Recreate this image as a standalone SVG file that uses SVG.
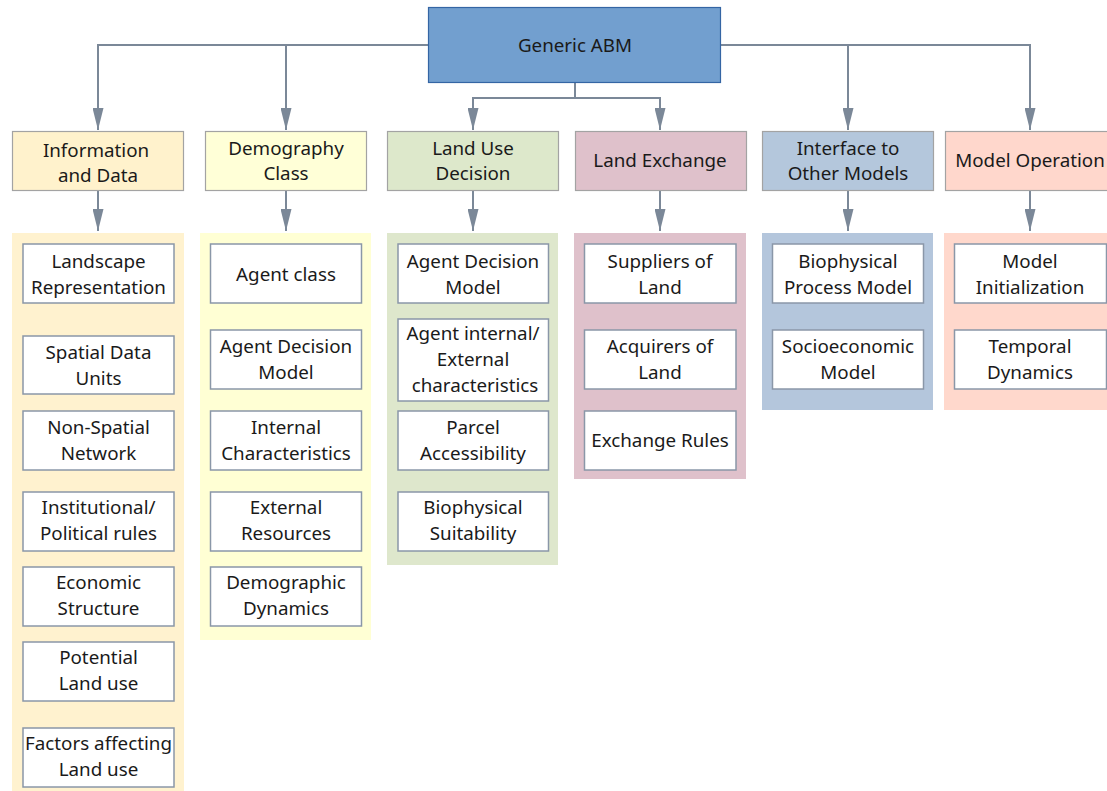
<svg xmlns="http://www.w3.org/2000/svg" width="1107" height="791" viewBox="0 0 1107 791">
  <defs>
    <marker id="arrow" viewBox="0 0 22 11" refX="22" refY="5.5" markerWidth="22" markerHeight="11" markerUnits="userSpaceOnUse" orient="auto">
      <path d="M0,0 L22,5.5 L0,11 Z" fill="#7b8898"/>
    </marker>
    <style>
      text { font-family: "Noto Sans", "Open Sans", "DejaVu Sans", sans-serif; font-size: 18.8px; fill: #1a1a1a; text-anchor: middle; }
      .conn { fill: none; stroke: #7b8898; stroke-width: 2; }
      .head { stroke: #a3a3a3; stroke-width: 1.2; }
      .item { fill: #ffffff; stroke: #8a97a8; stroke-width: 1.5; }
      .panel { stroke: none; }
    </style>
  </defs>
  <rect width="1107" height="791" fill="#ffffff"/>

  <!-- connectors -->
  <g id="connectors">
    <path class="conn" d="M428,45 H98 V130" marker-end="url(#arrow)"/>
    <path class="conn" d="M286,45 V130" marker-end="url(#arrow)"/>
    <path class="conn" d="M721,45 H1030 V130" marker-end="url(#arrow)"/>
    <path class="conn" d="M848,45 V130" marker-end="url(#arrow)"/>
    <path class="conn" d="M575,82 V98 H473 V130" marker-end="url(#arrow)"/>
    <path class="conn" d="M575,98 H660 V130" marker-end="url(#arrow)"/>
    <path class="conn" d="M98,190 V231" marker-end="url(#arrow)"/>
    <path class="conn" d="M286,190 V231" marker-end="url(#arrow)"/>
    <path class="conn" d="M473,190 V231" marker-end="url(#arrow)"/>
    <path class="conn" d="M660,190 V231" marker-end="url(#arrow)"/>
    <path class="conn" d="M848,190 V231" marker-end="url(#arrow)"/>
    <path class="conn" d="M1030,190 V231" marker-end="url(#arrow)"/>
  </g>

  <!-- root -->
  <g id="root">
    <rect x="428.5" y="7.5" width="292" height="75" fill="#729fcf" stroke="#3465a4" stroke-width="1.2"/>
    <text x="575" y="52">Generic ABM</text>
  </g>

  <!-- Information and Data -->
  <g id="info">
    <rect class="panel" x="12" y="233" width="172" height="558" fill="#fff2cf"/>
    <rect class="head" x="12.5" y="131.5" width="171" height="59" fill="#fff2cc"/>
    <text x="96" y="157">Information</text>
    <text x="98" y="182">and Data</text>
  </g>
  <g id="info-landscape">
    <rect class="item" x="23" y="244" width="151" height="59"/>
    <text x="98.5" y="268">Landscape</text><text x="98.5" y="294">Representation</text>
  </g>
  <g id="info-spatial">
    <rect class="item" x="23" y="336" width="151" height="58"/>
    <text x="98.5" y="359">Spatial Data</text><text x="98.5" y="385">Units</text>
  </g>
  <g id="info-nonspatial">
    <rect class="item" x="23" y="411" width="151" height="59"/>
    <text x="98.5" y="434">Non-Spatial</text><text x="98.5" y="460">Network</text>
  </g>
  <g id="info-institutional">
    <rect class="item" x="23" y="492" width="151" height="59"/>
    <text x="98.5" y="514">Institutional/</text><text x="98.5" y="540">Political rules</text>
  </g>
  <g id="info-economic">
    <rect class="item" x="23" y="567" width="151" height="59"/>
    <text x="98.5" y="589">Economic</text><text x="98.5" y="615">Structure</text>
  </g>
  <g id="info-potential">
    <rect class="item" x="23" y="642" width="151" height="59"/>
    <text x="98.5" y="664">Potential</text><text x="98.5" y="690">Land use</text>
  </g>
  <g id="info-factors">
    <rect class="item" x="23" y="728" width="151" height="59"/>
    <text x="98.5" y="750">Factors affecting</text><text x="98.5" y="776">Land use</text>
  </g>

  <!-- Demography Class -->
  <g id="demo">
    <rect class="panel" x="200" y="233" width="171" height="407" fill="#ffffd4"/>
    <rect class="head" x="205.5" y="131.5" width="161" height="59" fill="#ffffd7"/>
    <text x="286" y="155">Demography</text>
    <text x="286" y="180">Class</text>
  </g>
  <g id="demo-agentclass">
    <rect class="item" x="210.5" y="244" width="151" height="59"/>
    <text x="286" y="281">Agent class</text>
  </g>
  <g id="demo-decision">
    <rect class="item" x="210.5" y="330" width="151" height="59"/>
    <text x="286" y="353">Agent Decision</text><text x="286" y="379">Model</text>
  </g>
  <g id="demo-internal">
    <rect class="item" x="210.5" y="411" width="151" height="59"/>
    <text x="286" y="434">Internal</text><text x="286" y="460">Characteristics</text>
  </g>
  <g id="demo-external">
    <rect class="item" x="210.5" y="492" width="151" height="59"/>
    <text x="286" y="514">External</text><text x="286" y="540">Resources</text>
  </g>
  <g id="demo-dynamics">
    <rect class="item" x="210.5" y="567" width="151" height="59"/>
    <text x="286" y="589">Demographic</text><text x="286" y="615">Dynamics</text>
  </g>

  <!-- Land Use Decision -->
  <g id="landuse">
    <rect class="panel" x="387" y="233" width="171" height="332" fill="#dee7cc"/>
    <rect class="head" x="387.5" y="131.5" width="171" height="59" fill="#dde8cb"/>
    <text x="473" y="155">Land Use</text>
    <text x="473" y="180">Decision</text>
  </g>
  <g id="landuse-decision">
    <rect class="item" x="398" y="244" width="150.5" height="59"/>
    <text x="473" y="268">Agent Decision</text><text x="473" y="294">Model</text>
  </g>
  <g id="landuse-characteristics">
    <rect class="item" x="398" y="319" width="150.5" height="82"/>
    <text x="473" y="340">Agent internal/</text><text x="473" y="366">External</text><text x="475" y="392">characteristics</text>
  </g>
  <g id="landuse-parcel">
    <rect class="item" x="398" y="411" width="150.5" height="59"/>
    <text x="473" y="434">Parcel</text><text x="473" y="460">Accessibility</text>
  </g>
  <g id="landuse-biophysical">
    <rect class="item" x="398" y="492" width="150.5" height="59"/>
    <text x="473" y="514">Biophysical</text><text x="473" y="540">Suitability</text>
  </g>

  <!-- Land Exchange -->
  <g id="exchange">
    <rect class="panel" x="574" y="233" width="172" height="246" fill="#dfc1cb"/>
    <rect class="head" x="575.5" y="131.5" width="171" height="59" fill="#dfc1cb"/>
    <text x="660" y="167">Land Exchange</text>
  </g>
  <g id="exchange-suppliers">
    <rect class="item" x="584.5" y="244" width="151.5" height="59"/>
    <text x="660" y="268">Suppliers of</text><text x="660" y="294">Land</text>
  </g>
  <g id="exchange-acquirers">
    <rect class="item" x="584.5" y="330" width="151.5" height="59"/>
    <text x="660" y="353">Acquirers of</text><text x="660" y="379">Land</text>
  </g>
  <g id="exchange-rules">
    <rect class="item" x="584.5" y="411" width="151.5" height="59"/>
    <text x="660" y="447">Exchange Rules</text>
  </g>

  <!-- Interface to Other Models -->
  <g id="interface">
    <rect class="panel" x="762" y="233" width="171" height="177" fill="#b4c6dc"/>
    <rect class="head" x="762.5" y="131.5" width="171" height="59" fill="#b4c7dc"/>
    <text x="848" y="155">Interface to</text>
    <text x="848" y="180">Other Models</text>
  </g>
  <g id="interface-biophysical">
    <rect class="item" x="772.5" y="244" width="151" height="59"/>
    <text x="848" y="268">Biophysical</text><text x="848" y="294">Process Model</text>
  </g>
  <g id="interface-socio">
    <rect class="item" x="772.5" y="330" width="151" height="59"/>
    <text x="848" y="353">Socioeconomic</text><text x="848" y="379">Model</text>
  </g>

  <!-- Model Operation -->
  <g id="operation">
    <rect class="panel" x="944" y="233" width="170" height="177" fill="#ffd8cc"/>
    <rect class="head" x="945.5" y="131.5" width="170" height="59" fill="#ffd7cc"/>
    <text x="1030" y="167">Model Operation</text>
  </g>
  <g id="operation-init">
    <rect class="item" x="954.5" y="244" width="152" height="59"/>
    <text x="1030" y="268">Model</text><text x="1030" y="294">Initialization</text>
  </g>
  <g id="operation-temporal">
    <rect class="item" x="954.5" y="330" width="152" height="59"/>
    <text x="1030" y="353">Temporal</text><text x="1030" y="379">Dynamics</text>
  </g>
</svg>
